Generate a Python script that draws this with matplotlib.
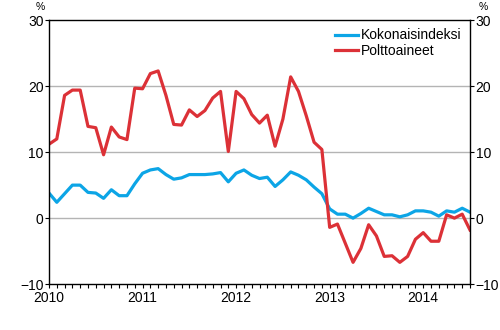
import numpy as np
import matplotlib.pyplot as plt

plt.rcParams['font.family'] = ['Liberation Sans', 'DejaVu Sans']

# monthly change, %, Jan 2010 - Jul 2014
kokonaisindeksi = [3.8, 2.4, 3.7, 5.0, 5.0, 3.9, 3.8, 3.0, 4.3, 3.4, 3.4, 5.2,
                   6.8, 7.3, 7.5, 6.6, 5.9, 6.1, 6.6, 6.6, 6.6, 6.7, 6.9, 5.5,
                   6.8, 7.3, 6.5, 6.0, 6.2, 4.8, 5.8, 7.0, 6.5, 5.8, 4.7, 3.7,
                   1.4, 0.6, 0.6, 0.0, 0.7, 1.5, 1.0, 0.5, 0.5, 0.2, 0.5, 1.1,
                   1.1, 0.9, 0.3, 1.1, 0.9, 1.5, 0.9]
polttoaineet = [11.2, 12.0, 18.6, 19.4, 19.4, 13.9, 13.7, 9.6, 13.8, 12.3, 11.9, 19.7,
                19.6, 21.9, 22.3, 18.6, 14.2, 14.1, 16.4, 15.4, 16.3, 18.2, 19.2, 10.1,
                19.2, 18.1, 15.7, 14.4, 15.6, 10.9, 15.0, 21.4, 19.2, 15.5, 11.5, 10.4,
                -1.4, -0.9, -3.8, -6.7, -4.6, -1.0, -2.7, -5.8, -5.7, -6.7, -5.8, -3.2,
                -2.2, -3.5, -3.5, 0.5, 0.0, 0.6, -1.8]
vuodet = ['2010', '2011', '2012', '2013', '2014']

kk = np.arange(len(polttoaineet))

fig = plt.figure(figsize=(5, 3.3), dpi=100)
ax = fig.add_axes([0.098, 0.139, 0.842, 0.8])

ax.plot(kk, kokonaisindeksi, color='#0ca5e6', lw=2.3, label='Kokonaisindeksi',
        solid_joinstyle='round')
ax.plot(kk, polttoaineet, color='#dc3137', lw=2.3, label='Polttoaineet',
        solid_joinstyle='round')

ax.set_xlim(0, len(kk) - 1)
ax.set_ylim(-10, 30)
ax.set_yticks([-10, 0, 10, 20, 30])
for g in [0, 10, 20]:
    ax.axhline(g, color='#b4b4b4', lw=1, zorder=0)

ax.set_xticks(np.arange(0, len(kk), 12))
ax.set_xticklabels(vuodet)
ax.set_xticks(np.arange(0, len(kk)), minor=True)
ax.tick_params(axis='x', which='both', direction='out', length=3, width=0.8,
               labelsize=10, pad=2)
ax.tick_params(axis='y', direction='out', length=3, width=0.8, labelsize=10,
               right=True, labelright=True, pad=1)

for s in ax.spines.values():
    s.set_linewidth(1)

# unit markers above both y axes
fig.text(0.08, 0.98, '%', fontsize=7.5, ha='center', va='center')
fig.text(0.966, 0.98, '%', fontsize=7.5, ha='center', va='center')

ax.legend(loc='upper right', frameon=False, fontsize=10, handlelength=1.65,
          handletextpad=0.2, labelspacing=0.1, borderaxespad=0.2,
          bbox_to_anchor=(1.0, 1.0))

fig.savefig('out.png', dpi=100)
